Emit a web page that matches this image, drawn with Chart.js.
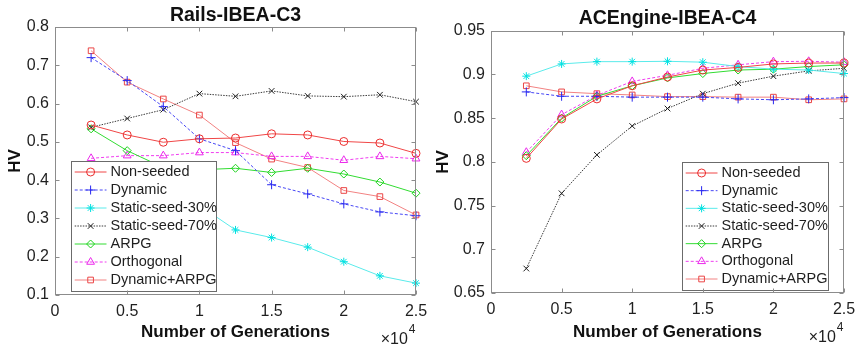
<!DOCTYPE html>
<html>
<head>
<meta charset="utf-8">
<title>HV vs generations</title>
<script src="https://cdn.jsdelivr.net/npm/chart.js@4.4.1/dist/chart.umd.min.js"></script>
<style>
  html, body { margin: 0; padding: 0; background: #fff; }
  #wrap { position: relative; width: 855px; height: 350px; overflow: hidden; }
  .panel { position: absolute; top: 0; height: 350px; }
  #railsPanel { left: 0; width: 428px; }
  #acePanel { left: 428px; width: 427px; }
</style>
</head>
<body>
<div id="wrap">
  <div class="panel" id="railsPanel"><canvas id="railsChart" width="428" height="350"></canvas></div>
  <div class="panel" id="acePanel"><canvas id="aceChart" width="427" height="350"></canvas></div>
</div>
<script>
// ---- data -------------------------------------------------------------
const generations = [2500, 5000, 7500, 10000, 12500, 15000, 17500, 20000, 22500, 25000];
const seriesNames = ["Non-seeded", "Dynamic", "Static-seed-30%", "Static-seed-70%", "ARPG", "Orthogonal", "Dynamic+ARPG"];

// Rails-IBEA-C3
const railsNonSeeded  = [0.544, 0.518, 0.499, 0.508, 0.510, 0.521, 0.518, 0.501, 0.497, 0.470];
const railsDynamic    = [0.720, 0.660, 0.592, 0.508, 0.477, 0.388, 0.364, 0.338, 0.317, 0.307];
const railsStatic30   = [0.410, 0.385, 0.360, 0.334, 0.270, 0.250, 0.225, 0.187, 0.150, 0.131];
const railsStatic70   = [0.538, 0.561, 0.584, 0.626, 0.619, 0.633, 0.620, 0.618, 0.623, 0.605];
const railsArpg       = [0.534, 0.477, 0.433, 0.427, 0.431, 0.420, 0.431, 0.416, 0.395, 0.366];
const railsOrthogonal = [0.457, 0.464, 0.464, 0.472, 0.472, 0.462, 0.462, 0.452, 0.462, 0.456];
const railsDynArpg    = [0.738, 0.656, 0.612, 0.570, 0.498, 0.455, 0.433, 0.373, 0.357, 0.309];

// ACEngine-IBEA-C4
const aceNonSeeded  = [0.804, 0.849, 0.872, 0.887, 0.897, 0.905, 0.908, 0.912, 0.913, 0.913];
const aceDynamic    = [0.880, 0.875, 0.875, 0.874, 0.874, 0.874, 0.872, 0.871, 0.872, 0.8735];
const aceStatic30   = [0.898, 0.912, 0.9146, 0.9146, 0.915, 0.914, 0.909, 0.906, 0.905, 0.901];
const aceStatic70   = [0.678, 0.764, 0.808, 0.841, 0.861, 0.878, 0.890, 0.898, 0.904, 0.907];
const aceArpg       = [0.807, 0.850, 0.875, 0.887, 0.896, 0.901, 0.905, 0.906, 0.909, 0.911];
const aceOrthogonal = [0.811, 0.854, 0.876, 0.892, 0.899, 0.907, 0.911, 0.9146, 0.915, 0.914];
const aceDynArpg    = [0.887, 0.880, 0.878, 0.8765, 0.8746, 0.8746, 0.874, 0.874, 0.871, 0.872];

// ---- look -------------------------------------------------------------
const FONT = '"Liberation Sans", Arial, Helvetica, sans-serif';
const INK = "#1f1f1f";
const AXIS = "#8c8c8c";

// one entry per series, same order as seriesNames
const seriesStyles = [
  { line: "rgb(240,70,70)",   mark: "rgb(235,45,45)",   point: "circle",   radius: 4,   dash: [] },
  { line: "rgb(70,70,245)",   mark: "rgb(40,40,240)",   point: "cross",    radius: 4.5, dash: [3, 2] },
  { line: "rgb(90,235,235)",  mark: "rgb(0,225,225)",   point: "star",     radius: 4,   dash: [] },
  { line: "rgb(60,60,60)",    mark: "rgb(30,30,30)",    point: "crossRot", radius: 4,   dash: [1.5, 1.2] },
  { line: "rgb(50,220,50)",   mark: "rgb(30,210,30)",   point: "rectRot",  radius: 4,   dash: [] },
  { line: "rgb(240,60,240)",  mark: "rgb(235,40,235)",  point: "triangle", radius: 4.5, dash: [3, 2] },
  { line: "rgb(242,130,130)", mark: "rgb(235,70,70)",   point: "rect",     radius: 4,   dash: [] }
];

Chart.defaults.font.family = FONT;
Chart.defaults.color = INK;

function buildDatasets(valueLists) {
  return valueLists.map((vals, i) => {
    const s = seriesStyles[i];
    return {
      label: seriesNames[i],
      data: generations.map((g, k) => ({ x: g, y: vals[k] })),
      borderColor: s.line,
      borderWidth: 1,
      borderDash: s.dash,
      pointStyle: s.point,
      pointRadius: s.radius,
      pointBorderColor: s.mark,
      pointBackgroundColor: "rgba(0,0,0,0)",
      pointBorderWidth: 1,
      tension: 0,
      fill: false,
      clip: false
    };
  });
}

// box + inward ticks on all four sides, and the x10^4 multiplier
const frameAndTicks = {
  id: "frameAndTicks",
  afterDraw(chart) {
    const { ctx, chartArea: a, scales } = chart;
    const L = Math.round(a.left) + 0.5, R = Math.round(a.right) - 0.5;
    const T = Math.round(a.top) + 0.5, B = Math.round(a.bottom) - 0.5;
    ctx.save();
    ctx.strokeStyle = AXIS;
    ctx.lineWidth = 1;
    ctx.setLineDash([]);
    ctx.strokeRect(L, T, R - L, B - T);
    ctx.beginPath();
    for (const t of scales.x.ticks) {
      const px = Math.round(scales.x.getPixelForValue(t.value)) + 0.5;
      ctx.moveTo(px, B); ctx.lineTo(px, B - 4);
      ctx.moveTo(px, T); ctx.lineTo(px, T + 4);
    }
    for (const t of scales.y.ticks) {
      const py = Math.round(scales.y.getPixelForValue(t.value)) + 0.5;
      ctx.moveTo(L, py); ctx.lineTo(L + 4, py);
      ctx.moveTo(R, py); ctx.lineTo(R - 4, py);
    }
    ctx.stroke();

    // exponent under the right end of the x axis
    ctx.fillStyle = INK;
    ctx.textBaseline = "middle";
    ctx.textAlign = "right";
    ctx.font = "12px " + FONT;
    const supRight = a.right - 0.5;
    ctx.fillText("4", supRight, a.bottom + 35);
    const supW = ctx.measureText("4").width;
    ctx.font = "16px " + FONT;
    ctx.fillText("\u00d710", supRight - supW - 1, a.bottom + 44.5);
    ctx.restore();
  }
};

// boxed legend sitting inside the plot area
const insideLegend = {
  id: "insideLegend",
  afterDatasetsDraw(chart, args, opts) {
    const { ctx } = chart;
    const { x, y, w, h } = opts.box;
    const rowH = (h - 22) / 6;
    ctx.save();
    ctx.fillStyle = "#fff";
    ctx.fillRect(x, y, w, h);
    ctx.strokeStyle = "#6b6b6b";
    ctx.lineWidth = 1;
    ctx.strokeRect(Math.round(x) + 0.5, Math.round(y) + 0.5, Math.round(w), Math.round(h));
    chart.data.datasets.forEach((ds, i) => {
      const s = seriesStyles[i];
      const cy = y + 11 + i * rowH;
      ctx.setLineDash(s.dash);
      ctx.strokeStyle = s.line;
      ctx.lineWidth = 1;
      ctx.beginPath();
      ctx.moveTo(x + 3.7, cy);
      ctx.lineTo(x + 35.5, cy);
      ctx.stroke();
      ctx.setLineDash([]);
      ctx.strokeStyle = s.mark;
      ctx.fillStyle = "rgba(0,0,0,0)";
      Chart.helpers.drawPoint(ctx, { pointStyle: s.point, radius: s.radius, rotation: 0, borderWidth: 1 }, x + 19.6, cy);
      ctx.fillStyle = INK;
      ctx.font = "14.5px " + FONT;
      ctx.textAlign = "left";
      ctx.textBaseline = "middle";
      ctx.fillText(ds.label, x + 39.5, cy);
    });
    ctx.restore();
  }
};

function makeChart(canvasId, cfg) {
  return new Chart(document.getElementById(canvasId), {
    type: "line",
    data: { datasets: buildDatasets(cfg.values) },
    options: {
      responsive: false,
      animation: false,
      events: [],
      layout: { padding: { left: 0, right: cfg.padRight, top: cfg.padTop, bottom: 0 } },
      plugins: {
        legend: { display: false },
        tooltip: { enabled: false },
        title: {
          display: true,
          text: cfg.title,
          fullSize: false,
          color: "#111",
          font: { size: 19.5, weight: "bold", family: FONT },
          padding: { top: 0, bottom: 0 }
        },
        insideLegend: { box: cfg.legendBox }
      },
      scales: {
        x: {
          type: "linear",
          min: 0,
          max: 25000,
          grid: { display: false, drawTicks: false },
          border: { display: false },
          ticks: {
            stepSize: 5000,
            padding: 7,
            color: INK,
            font: { size: 16 },
            maxRotation: 0,
            callback: v => String(v / 10000)
          },
          title: {
            display: true,
            text: "Number of Generations",
            color: "#111",
            font: { size: 17, weight: "bold" },
            padding: { top: 0, bottom: 7.8 }
          },
          afterFit: s => { s.height = cfg.xHeight; s.paddingLeft = 0; s.paddingRight = 0; }
        },
        y: {
          min: cfg.yMin,
          max: cfg.yMax,
          grid: { display: false, drawTicks: false },
          border: { display: false },
          ticks: {
            stepSize: cfg.yStep,
            padding: 6,
            color: INK,
            font: { size: 16 },
            callback: cfg.yFormat
          },
          title: {
            display: true,
            text: "HV",
            color: "#111",
            font: { size: 17, weight: "bold" },
            padding: { top: 4.8, bottom: 0 }
          },
          afterFit: s => { s.width = cfg.yWidth; s.paddingTop = 0; s.paddingBottom = 0; }
        }
      }
    },
    plugins: [frameAndTicks, insideLegend]
  });
}

makeChart("railsChart", {
  title: "Rails-IBEA-C3",
  values: [railsNonSeeded, railsDynamic, railsStatic30, railsStatic70, railsArpg, railsOrthogonal, railsDynArpg],
  yMin: 0.1, yMax: 0.8, yStep: 0.1,
  yFormat: v => v.toFixed(1),
  padTop: 3.6, padRight: 12, yWidth: 55, xHeight: 55,
  legendBox: { x: 71, y: 161, w: 145, h: 130 }
});

makeChart("aceChart", {
  title: "ACEngine-IBEA-C4",
  values: [aceNonSeeded, aceDynamic, aceStatic30, aceStatic70, aceArpg, aceOrthogonal, aceDynArpg],
  yMin: 0.65, yMax: 0.95, yStep: 0.05,
  yFormat: v => String(parseFloat(v.toFixed(2))),
  padTop: 7.3, padRight: 11, yWidth: 63, xHeight: 57,
  legendBox: { x: 254, y: 162, w: 146, h: 128 }
});
</script>
</body>
</html>
